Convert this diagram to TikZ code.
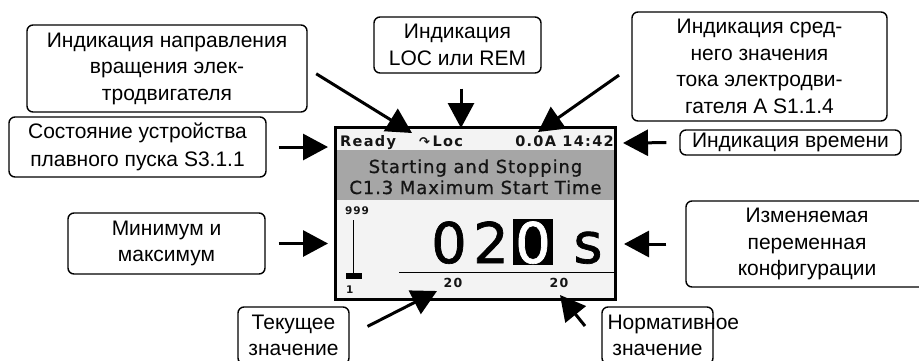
\documentclass[tikz,border=0pt]{standalone}
\usepackage{fontspec}
\setmainfont{Liberation Sans}
\newfontfamily\lcdfont[LetterSpace=5,FakeBold=0.8]{DejaVu Sans}
\newfontfamily\lcdwide[LetterSpace=9]{DejaVu Sans}
\newfontfamily\bigfont[FakeBold=1.2]{DejaVu Sans}
\usetikzlibrary{arrows.meta}

\definecolor{screenbg}{HTML}{F3F3F3}
\definecolor{bandgray}{HTML}{A6A6A6}
\definecolor{lcdink}{HTML}{151515}

\begin{document}
\begin{tikzpicture}[x=1pt,y=-1pt,
  callout/.style={draw, line width=1.4pt, rounded corners=6pt, align=center,
    inner sep=0pt, fill=white, font=\fontsize{21}{26.5}\selectfont},
  pointer/.style={line width=3pt, -{Triangle[length=25pt,width=26pt]}},
  lcdsmall/.style={inner sep=0pt, text=lcdink, font=\lcdwide\bfseries\fontsize{14.5}{16}\selectfont},
  lcdband/.style={inner sep=0pt, text=lcdink, font=\lcdfont\fontsize{18}{20}\selectfont},
  lcdtiny/.style={inner sep=0pt, text=lcdink, font=\lcdwide\bfseries\fontsize{12.5}{14}\selectfont},
  lcdbig/.style={inner sep=0pt, font=\bigfont\fontsize{56}{60}\selectfont},
]
\useasboundingbox (0,0) rectangle (919,360);
\clip (0,0) rectangle (919,360);

% ---------- display panel ----------
\fill[screenbg] (335.5,127.5) rectangle (615.5,299.5);
\fill[bandgray] (337,150) rectangle (614,200);

% status line
\node[lcdsmall, anchor=base west] (ready) at (340,146) {Ready};
\node[lcdsmall, anchor=base west] (loc) at (419,146) {{\fontsize{13}{14}\selectfont ↷}\,Loc};
\node[lcdsmall, anchor=base east] (clock) at (614,146) {0.0A 14:42};

% parameter title
\node[lcdband, anchor=base] (group) at (475.5,173) {Starting and Stopping};
\node[lcdband, anchor=base] (param) at (475.5,194) {C1.3 Maximum Start Time};

% min/max bar
\node[lcdtiny, anchor=base west, font=\lcdwide\bfseries\fontsize{10.5}{12}\selectfont] (maxval) at (345,214) {999};
\node[lcdtiny, anchor=base west, font=\lcdwide\bfseries\fontsize{10.5}{12}\selectfont] (minval) at (346,293) {1};
\draw[line width=1.5pt] (353.5,220) -- (353.5,273);
\fill (346,273) rectangle (362,278.5);

% edited value
\node[lcdbig, anchor=base] (d1) at (449,263) {0};
\node[lcdbig, anchor=base] (d2) at (491,263) {2};
\fill (513,219) rectangle (553,265);
\node[lcdbig, anchor=base, text=white] (d3) at (533,263) {0};
\node[lcdbig, anchor=base] (unit) at (588,263) {s};

% current / nominal values
\draw[line width=1.5pt] (399,272.5) -- (615,272.5);
\node[lcdtiny, anchor=base] (curval) at (453,287) {20};
\node[lcdtiny, anchor=base] (nomval) at (559,287) {20};

% frame
\draw[line width=3pt] (335.5,127.5) rectangle (615.5,299.5);

% ---------- callouts ----------
\node[callout, minimum width=280pt, minimum height=87pt] (dirbox) at (167,68.5)
  {Индикация направления\\вращения элек-\\тродвигателя};
\node[callout, minimum width=257pt, minimum height=60pt,
  font=\fontsize{21}{28}\selectfont] (statebox) at (137.5,147)
  {Состояние устройства\\плавного пуска S3.1.1};
\node[callout, minimum width=167pt, minimum height=56pt] (locbox) at (457.5,45)
  {Индикация\\LOC или REM};
\node[callout, minimum width=255pt, minimum height=109pt] (curbox) at (759.5,66.5)
  {Индикация сред-\\него значения\\тока электродви-\\гателя A S1.1.4};
\node[callout, minimum width=221pt, minimum height=25pt] (timebox) at (790.5,142.5)
  {Индикация времени};
\node[callout, minimum width=197pt, minimum height=61pt] (minmaxbox) at (166.5,243.5)
  {Минимум и\\максимум};
\node[callout, minimum width=242pt, minimum height=86pt] (varbox) at (807,244)
  {Изменяемая\\переменная\\конфигурации};
\node[callout, minimum width=111pt, minimum height=57pt] (actbox) at (293.5,335.5)
  {Текущее\\значение};
\node[callout, text width=100pt, inner xsep=5.5pt, minimum height=57pt, fill=none] (refbox) at (657.5,335.5)
  {Нормативное\\значение};

% ---------- pointers ----------
\coordinate (tipA) at (328,147);
\coordinate (tipB) at (328,243.5);
\coordinate (tipC) at (623,143);
\coordinate (tipD) at (624,244);
\coordinate (tipE) at (461,128);
\coordinate (tipF) at (412,133);
\coordinate (tipG) at (538,132);
\coordinate (tipH) at (437,291);
\coordinate (tailI) at (585,326);
\coordinate (tipI) at (560,295);

\draw[pointer, shorten <=12pt] (statebox.east) -- (tipA);
\draw[pointer, shorten <=13pt] (minmaxbox.east) -- (tipB);
\draw[pointer, shorten <=13pt] (timebox.west) -- (tipC);
\draw[pointer, shorten <=19pt] (varbox.west) -- (tipD);
\draw[pointer, shorten <=15pt] (locbox.south -| tipE) -- (tipE);
\draw[pointer, shorten <=10pt] (dirbox.east) -- (tipF);
\draw[pointer, shorten <=15pt] (curbox.west) -- (tipG);
\draw[pointer, shorten <=20pt] (actbox.east) -- (tipH);
\draw[pointer] (tailI) -- (tipI);
\end{tikzpicture}
\end{document}
